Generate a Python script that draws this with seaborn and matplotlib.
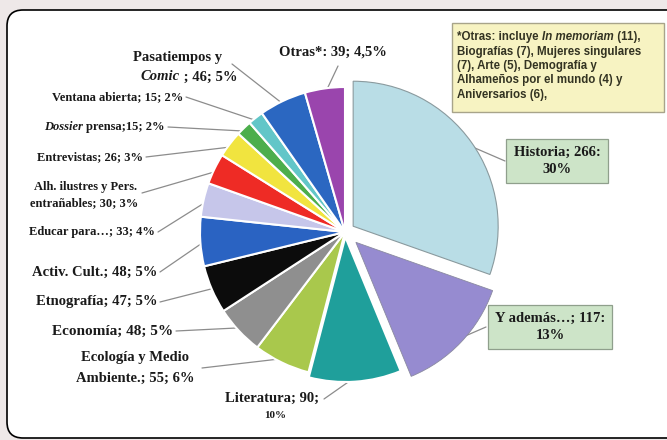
import matplotlib
matplotlib.use("Agg")
import numpy as np
import matplotlib.pyplot as plt
from matplotlib.patches import FancyBboxPatch, Rectangle
import seaborn as sns

# --- data ---
categories = ["Historia", "Y además…", "Literatura", "Ecología y Medio Ambiente.",
              "Economía", "Etnografía", "Activ. Cult.", "Educar para…",
              "Alh. ilustres y Pers. entrañables", "Entrevistas", "Dossier prensa",
              "Ventana abierta", "Pasatiempos y Comic", "Otras*"]
counts = [266, 117, 90, 55, 48, 47, 48, 33, 30, 26, 15, 15, 46, 39]
percents = ["30%", "13%", "10%", "6%", "5%", "5%", "5%", "4%", "3%", "3%", "2%", "2%", "5%", "4,5%"]
note_lines = [
    [("*Otras: incluye ", "normal"), ("In memoriam", "italic"), (" (11),", "normal")],
    [("Biografías (7), Mujeres singulares", "normal")],
    [("(7), Arte (5), Demografía y", "normal")],
    [("Alhameños por el mundo (4) y", "normal")],
    [("Aniversarios (6),", "normal")],
]

# --- style ---
colors = ["#b9dde6", "#968bd0", "#1f9f9b", "#a9c84c", "#8f8f8f", "#0c0c0c", "#2a63c2",
          "#c6c6ea", "#ee2b25", "#f1e43f", "#4cae4c", "#62c6c8", "#2b67c1", "#9a45ad"]
explode = [10, 15, 5, 0, 0, 0, 0, 0, 0, 0, 0, 0, 0, 0]   # pixels

sns.set_theme(style="white")
plt.rcParams["font.family"] = ["Liberation Serif", "DejaVu Serif"]

fig = plt.figure(figsize=(6.67, 4.40), dpi=100)
fig.patch.set_facecolor("#eee8e8")
ax = fig.add_axes([0, 0, 1, 1])

# frame
ax.add_patch(FancyBboxPatch((7, 10), 680, 428, boxstyle="round,pad=0,rounding_size=16",
                            fc="white", ec="black", lw=1.2, zorder=0))

wedges, _ = ax.pie(counts, colors=sns.color_palette(colors), explode=explode,
                   startangle=-90, counterclock=True, radius=145, center=(345, 232),
                   wedgeprops=dict(edgecolor="white", linewidth=1.5, zorder=2))
wedges[0].set_edgecolor("#8a9a9e")
wedges[0].set_linewidth(0.8)
wedges[1].set_edgecolor("#8a8aa0")
wedges[1].set_linewidth(0.6)

ax.set_xlim(0, 667)
ax.set_ylim(440, 0)
ax.set_aspect("auto")
ax.axis("off")


def edge_point(i, frac=1.0):
    w = wedges[i]
    mid = np.deg2rad((w.theta1 + w.theta2) / 2)
    return w.center[0] + w.r * frac * np.cos(mid), w.center[1] + w.r * frac * np.sin(mid)


def leader(i, start, frac=0.97):
    x, y = edge_point(i, frac)
    ax.plot([start[0], x], [start[1], y], color="#8c8c8c", lw=0.9, zorder=1)


bold = dict(weight="bold", color="#1a1a1a")

# boxed labels
box_green = dict(boxstyle="square,pad=0.5", fc="#cde4c8", ec="#8f9f8c", lw=0.9)
ax.text(557, 161, f"{categories[0]}; {counts[0]}:\n{percents[0]}", ha="center", va="center",
        fontsize=10.5, linespacing=1.35, bbox=box_green, zorder=3, **bold)
leader(0, (505, 161))
ax.text(550, 327, f"{categories[1]}; {counts[1]}:\n{percents[1]}", ha="center", va="center",
        fontsize=10.5, linespacing=1.35, bbox=box_green, zorder=3, **bold)
leader(1, (486, 327))

# Literatura
ax.text(272, 398, f"{categories[2]}; {counts[2]};", ha="center", va="center", fontsize=10.5, **bold)
ax.text(275, 415, percents[2], ha="center", va="center", fontsize=8, **bold)
leader(2, (324, 399))

# Ecología
ax.text(135, 358, "Ecología y Medio", ha="center", va="center", fontsize=10.5, **bold)
ax.text(135, 378, f"Ambiente.; {counts[3]}; {percents[3]}", ha="center", va="center", fontsize=10.5, **bold)
leader(3, (202, 368))

# single-line left labels
single = [(4, 173, 331, 11), (5, 157, 302, 10.5), (6, 157, 272, 10.5),
          (7, 155, 232, 9), (9, 143, 157, 9), (11, 183, 97, 9)]
for i, x, y, fs in single:
    ax.text(x, y, f"{categories[i]}; {counts[i]}; {percents[i]}", ha="right", va="center",
            fontsize=fs, **bold)
    leader(i, (x + 3, y))

# Alh. ilustres (two lines)
ax.text(86, 187, "Alh. ilustres y Pers.", ha="center", va="center", fontsize=9, **bold)
ax.text(84, 203, f"entrañables; {counts[8]}; {percents[8]}", ha="center", va="center", fontsize=9, **bold)
leader(8, (142, 193))

# Dossier prensa (first word italic)
t = ax.text(165, 127, f"prensa;{counts[10]}; {percents[10]}", ha="right", va="center", fontsize=9, **bold)
ax.annotate("Dossier ", xy=(0, 0), xycoords=t, ha="right", va="bottom", fontsize=9,
            style="italic", **bold)
leader(10, (168, 127))

# Pasatiempos y Comic
ax.text(178, 57, "Pasatiempos y", ha="center", va="center", fontsize=10.5, **bold)
t = ax.text(180, 77, f" ; {counts[12]}; {percents[12]}", ha="left", va="center", fontsize=10.5, **bold)
ax.annotate("Comic", xy=(0, 0), xycoords=t, ha="right", va="bottom", fontsize=10.5,
            style="italic", **bold)
leader(12, (232, 64))

# Otras
ax.text(333, 52, f"{categories[13]}: {counts[13]}; {percents[13]}", ha="center", va="center",
        fontsize=10.5, **bold)
leader(13, (338, 66))

# note box
ax.add_patch(Rectangle((452, 23), 212, 89, fc="#f7f3c2", ec="#a8a48a", lw=1.0, zorder=2))
for k, parts in enumerate(note_lines):
    y = 37 + k * 14.5
    prev = None
    for txt, st in parts:
        kw = dict(fontsize=8.3, weight="bold", color="#333322", style=st,
                  family=["Liberation Sans", "DejaVu Sans"], zorder=3)
        if prev is None:
            prev = ax.text(457, y, txt, ha="left", va="center", **kw)
        else:
            prev = ax.annotate(txt, xy=(1, 0), xycoords=prev, ha="left", va="bottom", **kw)

fig.savefig("out.png", dpi=100, facecolor=fig.get_facecolor())
